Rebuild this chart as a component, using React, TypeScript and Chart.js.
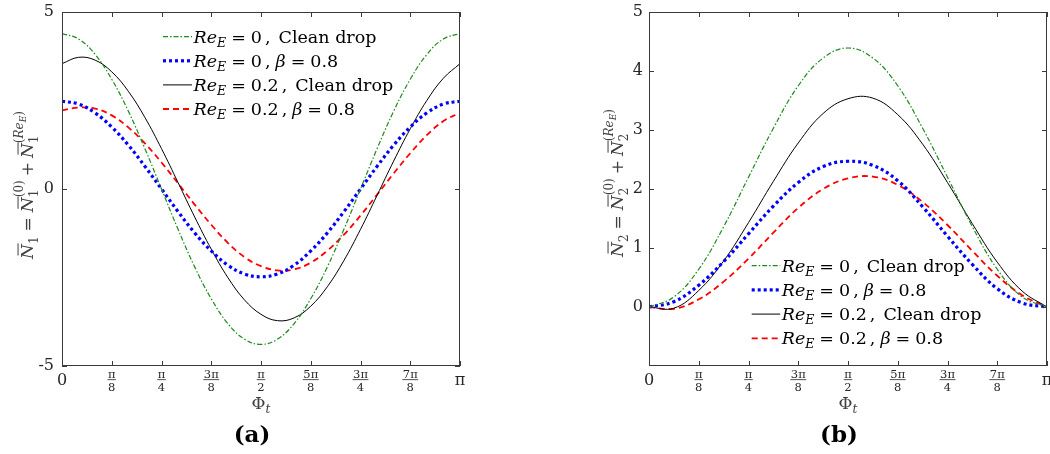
import React, { useEffect, useRef } from "react";
import { Chart, registerables } from "chart.js";

Chart.register(...registerables);

// ---------- DATA (x in units of π) ----------
const PHI_A = [0, 1 / 24, 2 / 24, 3 / 24, 4 / 24, 5 / 24, 6 / 24, 7 / 24, 8 / 24, 9 / 24, 10 / 24, 11 / 24, 12 / 24,
  13 / 24, 14 / 24, 15 / 24, 16 / 24, 17 / 24, 18 / 24, 19 / 24, 20 / 24, 21 / 24, 22 / 24, 23 / 24, 1];
const A_RE0_CLEAN = [4.39, 4.24, 3.8, 3.1, 2.2, 1.14, 0, -1.14, -2.2, -3.1, -3.8, -4.24, -4.39, -4.24, -3.8, -3.1, -2.2,
  -1.14, 0, 1.14, 2.2, 3.1, 3.8, 4.24, 4.39];
const A_RE0_BETA = [2.48, 2.4, 2.15, 1.75, 1.24, 0.64, 0, -0.64, -1.24, -1.75, -2.15, -2.4, -2.48, -2.4, -2.15, -1.75,
  -1.24, -0.64, 0, 0.64, 1.24, 1.75, 2.15, 2.4, 2.48];
const A_RE02_CLEAN = [3.54, 3.72, 3.64, 3.31, 2.76, 2.02, 1.14, 0.18, -0.79, -1.7, -2.5, -3.13, -3.54, -3.72, -3.64,
  -3.31, -2.76, -2.02, -1.14, -0.18, 0.79, 1.7, 2.5, 3.13, 3.54];
const A_RE02_BETA = [2.22, 2.3, 2.27, 2.08, 1.74, 1.29, 0.75, 0.16, -0.44, -1.01, -1.52, -1.92, -2.18, -2.3, -2.27,
  -2.08, -1.74, -1.29, -0.75, -0.16, 0.44, 1.01, 1.52, 1.92, 2.15];

const PHI_B = [0, 1 / 16, 2 / 16, 3 / 16, 4 / 16, 5 / 16, 6 / 16, 7 / 16, 8 / 16, 9 / 16, 10 / 16, 11 / 16, 12 / 16,
  13 / 16, 14 / 16, 15 / 16, 1];
const B_RE0_CLEAN = [0, 0.17, 0.64, 1.36, 2.2, 3.03, 3.75, 4.22, 4.39, 4.22, 3.75, 3.03, 2.2, 1.36, 0.64, 0.17, 0];
const B_RE0_BETA = [0, 0.09, 0.37, 0.77, 1.24, 1.71, 2.11, 2.38, 2.47, 2.4, 2.14, 1.7, 1.2, 0.72, 0.31, 0.07, 0];
const B_RE02_CLEAN = [0, -0.02, 0.28, 0.78, 1.43, 2.13, 2.78, 3.28, 3.53, 3.54, 3.26, 2.76, 2.11, 1.41, 0.76, 0.27, 0];
const B_RE02_BETA = [0, -0.03, 0.13, 0.43, 0.82, 1.26, 1.68, 2.0, 2.18, 2.21, 2.07, 1.78, 1.39, 0.95, 0.53, 0.2, 0];

const X_TICK_VALUES = [0, 1 / 8, 2 / 8, 3 / 8, 4 / 8, 5 / 8, 6 / 8, 7 / 8, 1];
const X_TICK_NUM = ["0", "π", "π", "3π", "π", "5π", "3π", "7π", "π"];
const X_TICK_DEN = ["", "8", "4", "8", "2", "8", "4", "8", ""];

const Y_TICKS_A = [-5, 0, 5];
const Y_TICK_LABELS_A = ["-5", "0", "5"];
const Y_TICKS_B = [0, 1, 2, 3, 4, 5];
const Y_TICK_LABELS_B = ["0", "1", "2", "3", "4", "5"];

const LEGEND_RE = ["0", "0", "0.2", "0.2"];
const LEGEND_KIND = ["clean", "beta", "clean", "beta"];
const BETA_VALUE = "0.8";
const CLEAN_TEXT = "Clean drop";

// ---------- STYLES ----------
const SERIES_STYLE = [
  { color: "#1c8a1c", width: 1.2, dash: [5, 2, 1.5, 2] },
  { color: "#0000ff", width: 3.2, dash: [3, 3] },
  { color: "#000000", width: 1, dash: [] as number[] },
  { color: "#ff0000", width: 1.8, dash: [6, 4] },
];

const FONT = '"DejaVu Serif", "Liberation Serif", serif';

interface Seg {
  t?: string;
  gap?: number;
  it?: boolean;
  bold?: boolean;
  sz?: number;
  dy?: number;
  bar?: boolean;
  stack?: boolean;
  cont?: boolean;
}

function fontOf(s: Seg) {
  return `${s.it ? "italic " : ""}${s.bold ? "bold " : ""}${s.sz ?? 17}px ${FONT}`;
}

function drawRich(ctx: CanvasRenderingContext2D, segs: Seg[], x: number, y: number, align: string, color: string) {
  const items: { s: Seg; sx: number; w: number }[] = [];
  let cx = 0, maxX = 0, groupStart = 0;
  for (const s of segs) {
    if (s.gap !== undefined) {
      cx = Math.max(cx, maxX) + s.gap;
      maxX = cx;
      groupStart = cx;
      continue;
    }
    ctx.font = fontOf(s);
    const w = ctx.measureText(s.t!).width;
    let sx: number;
    if (s.stack) sx = groupStart;
    else if (s.cont) sx = cx;
    else {
      sx = Math.max(cx, maxX);
      groupStart = sx;
    }
    items.push({ s, sx, w });
    cx = sx + w;
    maxX = Math.max(maxX, cx);
  }
  const total = maxX;
  const x0 = align === "center" ? x - total / 2 : align === "right" ? x - total : x;
  ctx.fillStyle = color;
  ctx.strokeStyle = color;
  ctx.textAlign = "left";
  ctx.textBaseline = "alphabetic";
  for (const { s, sx, w } of items) {
    ctx.font = fontOf(s);
    const by = y + (s.dy ?? 0);
    ctx.fillText(s.t!, x0 + sx, by);
    if (s.bar) {
      const sz = s.sz ?? 17;
      ctx.lineWidth = 1;
      ctx.setLineDash([]);
      ctx.beginPath();
      ctx.moveTo(x0 + sx + sz * 0.2, by - sz * 0.88);
      ctx.lineTo(x0 + sx + w + sz * 0.04, by - sz * 0.88);
      ctx.stroke();
    }
  }
}

function legendSegs(i: number): Seg[] {
  const S = 17.5;
  const segs: Seg[] = [
    { t: "Re", it: true, sz: S },
    { t: "E", it: true, sz: 12.5, dy: 4 },
    { gap: 5 },
    { t: "=", sz: S },
    { gap: 5 },
    { t: LEGEND_RE[i], sz: S },
    { gap: 3 },
    { t: ",", sz: S },
  ];
  if (LEGEND_KIND[i] === "clean") {
    segs.push({ gap: 8 }, { t: CLEAN_TEXT, sz: S });
  } else {
    segs.push({ gap: 5 }, { t: "β", it: true, sz: S }, { gap: 5 }, { t: "=", sz: S }, { gap: 5 }, { t: BETA_VALUE, sz: S });
  }
  return segs;
}

function ylabelSegs(idx: string): Seg[] {
  const S = 17, s = 12;
  return [
    { t: "N", it: true, sz: S, bar: true },
    { t: idx, sz: s, dy: 5 },
    { gap: 5 },
    { t: "=", sz: S },
    { gap: 5 },
    { t: "N", it: true, sz: S, bar: true },
    { t: idx, sz: s, dy: 5 },
    { t: "(0)", sz: s, dy: -10, stack: true },
    { gap: 4 },
    { t: "+", sz: S },
    { gap: 4 },
    { t: "N", it: true, sz: S, bar: true },
    { t: idx, sz: s, dy: 5 },
    { t: "(", sz: s, dy: -10, stack: true },
    { t: "Re", it: true, sz: s, dy: -10, cont: true },
    { t: "E", it: true, sz: 9, dy: -7, cont: true },
    { t: ")", sz: s, dy: -10, cont: true },
  ];
}

interface PanelCfg {
  phi: number[];
  series: number[][];
  yMin: number;
  yMax: number;
  yTicks: number[];
  yTickLabels: string[];
  yAxisWidth: number;
  padRight: number;
  legendX: number;
  legendY: number;
  legendDy: number;
  legendLen: number;
  ylabX: number;
  ylabCY: number;
  idx: string;
  caption: string;
  tickGap: number;
}

const PANEL_A: PanelCfg = {
  phi: PHI_A,
  series: [A_RE0_CLEAN, A_RE0_BETA, A_RE02_CLEAN, A_RE02_BETA],
  yMin: -5,
  yMax: 5,
  yTicks: Y_TICKS_A,
  yTickLabels: Y_TICK_LABELS_A,
  yAxisWidth: 62,
  padRight: 65,
  legendX: 163,
  legendY: 36.7,
  legendDy: 24.1,
  legendLen: 29,
  ylabX: 33,
  ylabCY: 185,
  idx: "1",
  caption: "(a)",
  tickGap: 8,
};

const PANEL_B: PanelCfg = {
  phi: PHI_B,
  series: [B_RE0_CLEAN, B_RE0_BETA, B_RE02_CLEAN, B_RE02_BETA],
  yMin: -1,
  yMax: 5,
  yTicks: Y_TICKS_B,
  yTickLabels: Y_TICK_LABELS_B,
  yAxisWidth: 124,
  padRight: 3,
  legendX: 226.7,
  legendY: 265.7,
  legendDy: 24.2,
  legendLen: 28.5,
  ylabX: 98,
  ylabCY: 183,
  idx: "2",
  caption: "(b)",
  tickGap: 6,
};

function makeDeco(p: PanelCfg) {
  return {
    id: "deco" + p.idx,
    afterDraw(chart: any) {
      const ctx: CanvasRenderingContext2D = chart.ctx;
      const { left, right, top, bottom } = chart.chartArea;
      const xs = chart.scales.x;
      const ys = chart.scales.y;
      ctx.save();
      // frame
      ctx.setLineDash([]);
      ctx.strokeStyle = "#3a3a3a";
      ctx.lineWidth = 1;
      ctx.strokeRect(left + 0.5, top + 0.5, right - left - 1, bottom - top - 1);
      // ticks
      ctx.beginPath();
      for (const v of X_TICK_VALUES) {
        const px = Math.round(xs.getPixelForValue(v)) + 0.5;
        ctx.moveTo(px, bottom);
        ctx.lineTo(px, bottom - 5);
        ctx.moveTo(px, top);
        ctx.lineTo(px, top + 5);
      }
      for (const v of p.yTicks) {
        const py = Math.round(ys.getPixelForValue(v)) + 0.5;
        ctx.moveTo(left, py);
        ctx.lineTo(left + 5, py);
        ctx.moveTo(right, py);
        ctx.lineTo(right - 5, py);
      }
      ctx.stroke();

      const tickColor = "#262626";
      // y tick labels
      ctx.fillStyle = tickColor;
      ctx.font = `16px ${FONT}`;
      ctx.textAlign = "right";
      ctx.textBaseline = "middle";
      p.yTicks.forEach((v, i) => {
        ctx.fillText(p.yTickLabels[i], left - p.tickGap, ys.getPixelForValue(v));
      });
      // x tick labels
      X_TICK_VALUES.forEach((v, i) => {
        const px = xs.getPixelForValue(v);
        ctx.fillStyle = tickColor;
        ctx.textAlign = "center";
        ctx.textBaseline = "alphabetic";
        if (!X_TICK_DEN[i]) {
          ctx.font = `16px ${FONT}`;
          ctx.fillText(X_TICK_NUM[i], px, bottom + 19);
        } else {
          ctx.font = `11.5px ${FONT}`;
          const wn = ctx.measureText(X_TICK_NUM[i]).width;
          const wd = ctx.measureText(X_TICK_DEN[i]).width;
          ctx.fillText(X_TICK_NUM[i], px, bottom + 11.7);
          ctx.fillText(X_TICK_DEN[i], px, bottom + 25);
          const bw = Math.max(wn, wd) + 1;
          ctx.fillRect(px - bw / 2, bottom + 13.3, bw, 0.8);
        }
      });
      const cxp = (left + right) / 2;
      // x title
      drawRich(ctx, [{ t: "Φ", sz: 17 }, { t: "t", it: true, sz: 12, dy: 4 }], cxp, bottom + 43, "center", "#404040");
      // caption
      drawRich(ctx, [{ t: p.caption, bold: true, sz: 23 }], cxp - 9, 442, "center", "#000");
      // y title
      ctx.save();
      ctx.translate(p.ylabX, p.ylabCY);
      ctx.rotate(-Math.PI / 2);
      drawRich(ctx, ylabelSegs(p.idx), 0, 0, "center", "#404040");
      ctx.restore();
      // legend
      for (let i = 0; i < 4; i++) {
        const st = SERIES_STYLE[i];
        const ly = p.legendY + i * p.legendDy;
        ctx.strokeStyle = st.color;
        ctx.lineWidth = st.width;
        ctx.setLineDash(st.dash);
        ctx.beginPath();
        ctx.moveTo(p.legendX, ly);
        ctx.lineTo(p.legendX + p.legendLen, ly);
        ctx.stroke();
        ctx.setLineDash([]);
        drawRich(ctx, legendSegs(i), p.legendX + p.legendLen + 1.5, ly + 6, "left", "#000");
      }
      ctx.restore();
    },
  };
}

function buildConfig(p: PanelCfg): any {
  return {
    type: "line",
    data: {
      datasets: p.series.map((vals, si) => ({
        data: p.phi.map((x, i) => ({ x, y: vals[i] })),
        borderColor: SERIES_STYLE[si].color,
        borderWidth: SERIES_STYLE[si].width,
        borderDash: SERIES_STYLE[si].dash,
        pointRadius: 0,
        fill: false,
        tension: 0.4,
      })),
    },
    options: {
      animation: false,
      responsive: false,
      maintainAspectRatio: false,
      events: [],
      layout: { padding: { left: 0, top: 12, right: p.padRight, bottom: 0 } },
      plugins: { legend: { display: false }, tooltip: { enabled: false } },
      scales: {
        x: {
          type: "linear",
          min: 0,
          max: 1,
          grid: { display: false },
          border: { display: false },
          ticks: { display: false },
          afterFit: (s: any) => {
            s.height = 88;
          },
        },
        y: {
          type: "linear",
          min: p.yMin,
          max: p.yMax,
          grid: { display: false },
          border: { display: false },
          ticks: { display: false },
          afterFit: (s: any) => {
            s.width = p.yAxisWidth;
          },
        },
      },
    },
    plugins: [makeDeco(p)],
  };
}

function Panel({ panel, left }: { panel: PanelCfg; left: number }) {
  const ref = useRef<HTMLCanvasElement>(null);
  useEffect(() => {
    const chart = new Chart(ref.current!, buildConfig(panel));
    return () => chart.destroy();
  }, [panel]);
  return (
    <canvas
      ref={ref}
      width={525}
      height={454}
      style={{ position: "absolute", left, top: 0, width: 525, height: 454 }}
    />
  );
}

export default function App() {
  return (
    <div
      style={{
        position: "fixed",
        left: 0,
        top: 0,
        width: 1050,
        height: 454,
        background: "#fff",
        overflow: "hidden",
      }}
    >
      <Panel panel={PANEL_A} left={0} />
      <Panel panel={PANEL_B} left={525} />
    </div>
  );
}
